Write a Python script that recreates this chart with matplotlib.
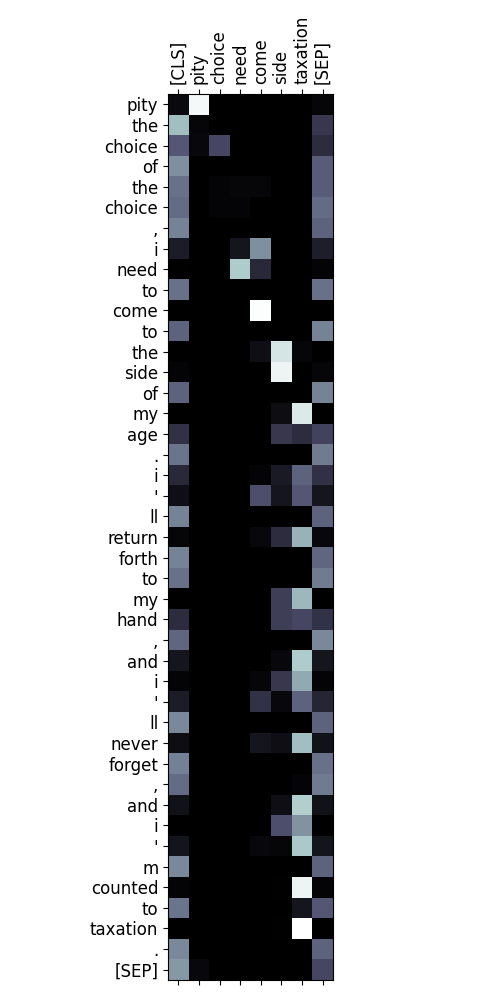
import numpy as np
import matplotlib.pyplot as plt

row_labels = ["pity", "the", "choice", "of", "the", "choice", ",", "i", "need", "to",
              "come", "to", "the", "side", "of", "my", "age", ".", "i", "'",
              "ll", "return", "forth", "to", "my", "hand", ",", "and", "i", "'",
              "ll", "never", "forget", ",", "and", "i", "'", "m", "counted", "to",
              "taxation", ".", "[SEP]"]
col_labels = ["[CLS]", "pity", "choice", "need", "come", "side", "taxation", "[SEP]"]

cls_col = [0.05, 0.72, 0.38, 0.57, 0.47, 0.45, 0.53, 0.13, 0.01, 0.47,
           0.0, 0.42, 0.0, 0.02, 0.42, 0.0, 0.22, 0.48, 0.18, 0.07,
           0.53, 0.03, 0.53, 0.47, 0.0, 0.2, 0.43, 0.1, 0.02, 0.13,
           0.55, 0.06, 0.52, 0.45, 0.08, 0.0, 0.09, 0.55, 0.02, 0.48,
           0.0, 0.55, 0.6]
pity_col = [0.97, 0.03, 0.04, 0, 0, 0, 0, 0, 0, 0,
            0, 0, 0, 0, 0, 0, 0, 0, 0, 0,
            0, 0, 0, 0, 0, 0, 0, 0, 0, 0,
            0, 0, 0, 0, 0, 0, 0, 0, 0, 0,
            0, 0, 0.04]
choice_col = [0, 0, 0.32, 0, 0.02, 0.02, 0, 0, 0, 0,
              0, 0, 0, 0, 0, 0, 0, 0, 0, 0,
              0, 0, 0, 0, 0, 0, 0, 0, 0, 0,
              0, 0, 0, 0, 0, 0, 0, 0, 0, 0,
              0, 0, 0]
need_col = [0, 0, 0, 0, 0.03, 0.02, 0, 0.1, 0.77, 0,
            0, 0, 0, 0, 0, 0, 0, 0, 0, 0,
            0, 0, 0, 0, 0, 0, 0, 0, 0, 0,
            0, 0, 0, 0, 0, 0, 0, 0, 0, 0,
            0, 0, 0]
come_col = [0, 0, 0, 0, 0.03, 0, 0, 0.57, 0.18, 0,
            0.99, 0, 0.07, 0, 0, 0, 0, 0, 0.02, 0.35,
            0, 0.04, 0, 0, 0, 0, 0, 0, 0.03, 0.23,
            0, 0.1, 0, 0, 0, 0, 0.04, 0, 0, 0,
            0, 0, 0]
side_col = [0, 0, 0, 0, 0, 0, 0, 0, 0, 0,
            0, 0, 0.88, 0.95, 0, 0.06, 0.25, 0, 0.12, 0.1,
            0, 0.2, 0, 0, 0.28, 0.28, 0, 0.04, 0.25, 0.04,
            0, 0.07, 0, 0, 0.07, 0.35, 0.03, 0, 0.01, 0,
            0.01, 0, 0]
taxation_col = [0, 0, 0, 0, 0, 0, 0, 0, 0, 0,
                0, 0, 0.03, 0, 0, 0.9, 0.2, 0, 0.42, 0.38,
                0, 0.68, 0, 0, 0.7, 0.32, 0, 0.77, 0.65, 0.42,
                0, 0.72, 0, 0.02, 0.78, 0.58, 0.76, 0, 0.95, 0.1,
                1.0, 0, 0]
sep_col = [0.03, 0.25, 0.2, 0.4, 0.4, 0.45, 0.42, 0.14, 0.02, 0.47,
           0, 0.53, 0, 0.03, 0.53, 0, 0.3, 0.5, 0.22, 0.1,
           0.42, 0.04, 0.43, 0.5, 0, 0.23, 0.55, 0.1, 0.02, 0.17,
           0.42, 0.08, 0.47, 0.5, 0.08, 0, 0.09, 0.42, 0.02, 0.38,
           0, 0.42, 0.32]

attn = np.array([cls_col, pity_col, choice_col, need_col, come_col,
                 side_col, taxation_col, sep_col]).T

fig = plt.figure(figsize=(5, 10), dpi=100)
ax = fig.add_axes([0.336, 0.02, 0.33, 0.886])
ax.imshow(attn, cmap="bone", vmin=0, vmax=1, interpolation="nearest")

ax.set_xticks(range(len(col_labels)))
ax.set_xticklabels(col_labels, rotation=90, fontsize=12)
ax.set_yticks(range(len(row_labels)))
ax.set_yticklabels(row_labels, fontsize=12)
ax.tick_params(axis="x", top=True, bottom=True, labeltop=True, labelbottom=False)

fig.savefig("out.png", dpi=100)
